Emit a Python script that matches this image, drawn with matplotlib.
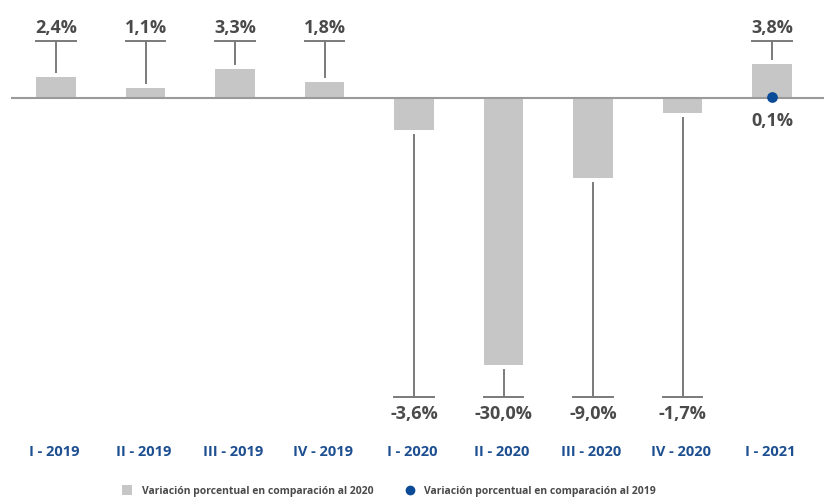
import matplotlib
matplotlib.use('Agg')
import matplotlib.pyplot as plt
from matplotlib.patches import Patch
from matplotlib.lines import Line2D

# Datos trimestrales
trimestres = ['I - 2019', 'II - 2019', 'III - 2019', 'IV - 2019', 'I - 2020',
              'II - 2020', 'III - 2020', 'IV - 2020', 'I - 2021']
var_2020 = [2.4, 1.1, 3.3, 1.8, -3.6, -30.0, -9.0, -1.7, 3.8]
var_2019_i2021 = 0.1   # solo para I - 2021

GRIS_BARRA = '#c6c6c6'
GRIS_LINEA = '#7a7a7a'
GRIS_TEXTO = '#4a4a4a'
AZUL = '#1d4f91'
AZUL_PUNTO = '#0b4a96'

plt.rcParams['font.family'] = ['Open Sans', 'DejaVu Sans']


def fmt(v):
    return f'{v:.1f}%'.replace('.', ',')


fig = plt.figure(figsize=(8.24, 5.0), dpi=100)
ax = fig.add_axes([0, 0, 1, 1])
ax.set_xlim(-0.626, 8.581)
ax.set_ylim(-45.17, 11.01)
ax.axis('off')

x = list(range(len(trimestres)))
ancho = 0.44

ax.bar(x, var_2020, width=ancho, color=GRIS_BARRA, zorder=2)
ax.plot([-0.49, 8.6], [0, 0], color='#9a9a9a', lw=1.5, zorder=3)

# Líneas guía en forma de T con su etiqueta
y_t_pos, y_lab_pos = 6.4, 7.9
y_t_neg, y_lab_neg = -33.6, -35.5
hueco = 0.55
for xi, v in zip(x, var_2020):
    if v >= 0:
        ax.plot([xi, xi], [v + hueco, y_t_pos], color=GRIS_LINEA, lw=1.4, zorder=3)
        ax.plot([xi - ancho / 2, xi + ancho / 2], [y_t_pos, y_t_pos], color=GRIS_LINEA, lw=1.4)
        ax.text(xi, y_lab_pos, fmt(v), ha='center', va='center', fontsize=13,
                fontweight='bold', color=GRIS_TEXTO)
    else:
        ax.plot([xi, xi], [v - hueco, y_t_neg], color=GRIS_LINEA, lw=1.4, zorder=3)
        ax.plot([xi - ancho / 2, xi + ancho / 2], [y_t_neg, y_t_neg], color=GRIS_LINEA, lw=1.4)
        ax.text(xi, y_lab_neg, fmt(v), ha='center', va='center', fontsize=13,
                fontweight='bold', color=GRIS_TEXTO)

# Punto de variación frente a 2019
ax.scatter([x[-1]], [var_2019_i2021], s=45, color=AZUL_PUNTO, zorder=4)
ax.text(x[-1], -2.6, fmt(var_2019_i2021), ha='center', va='center', fontsize=13,
        fontweight='bold', color=GRIS_TEXTO)

# Etiquetas de trimestres
for xi, t in zip(x, trimestres):
    ax.text(xi - 0.02, -39.8, t, ha='center', va='center', fontsize=10.5,
            fontweight='bold', color=AZUL)

handles = [
    Patch(facecolor=GRIS_BARRA, edgecolor='none', label='Variación porcentual en comparación al 2020'),
    Line2D([], [], marker='o', ls='none', color=AZUL_PUNTO, markersize=6,
           label='Variación porcentual en comparación al 2019'),
]
leg = ax.legend(handles=handles, loc='center', bbox_to_anchor=(0.472, 0.018), ncol=2,
                frameon=False, fontsize=7.5, handlelength=1.0, handleheight=1.1,
                columnspacing=3.0, handletextpad=0.9)
for t in leg.get_texts():
    t.set_color(GRIS_TEXTO)
    t.set_fontweight('bold')

fig.savefig('out.png', dpi=100)
